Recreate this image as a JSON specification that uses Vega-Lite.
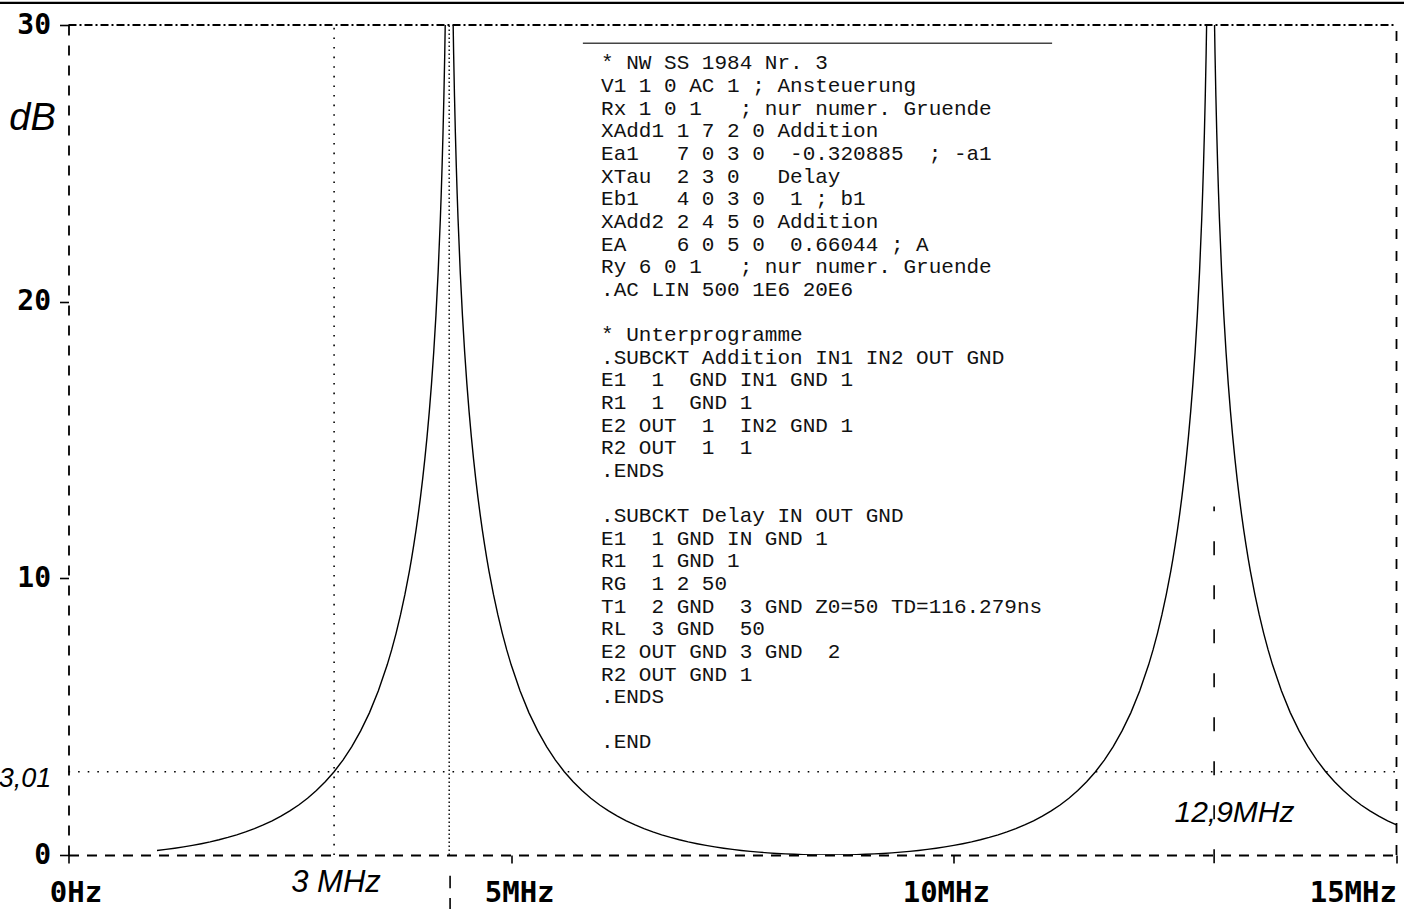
{
  "$schema": "https://vega.github.io/schema/vega-lite/v6.json",
  "width": 1328,
  "height": 830,
  "autosize": {"type": "none"},
  "padding": {"left": 68.5, "top": 25, "right": 7.5, "bottom": 54},
  "background": "white",
  "config": {"view": {"stroke": null}},
  "datasets": {
    "curve": [
      {"f": 1.0, "dB": 0.1645}, {"f": 1.1, "dB": 0.2025}, {"f": 1.2, "dB": 0.2451}, {"f": 1.3, "dB": 0.2933},
      {"f": 1.4, "dB": 0.3473}, {"f": 1.5, "dB": 0.4078}, {"f": 1.6, "dB": 0.4755}, {"f": 1.7, "dB": 0.5511},
      {"f": 1.8, "dB": 0.6357}, {"f": 1.9, "dB": 0.7301}, {"f": 2.0, "dB": 0.8357}, {"f": 2.1, "dB": 0.9541},
      {"f": 2.2, "dB": 1.0868}, {"f": 2.3, "dB": 1.2361}, {"f": 2.4, "dB": 1.404}, {"f": 2.5, "dB": 1.5937},
      {"f": 2.6, "dB": 1.8082}, {"f": 2.7, "dB": 2.0518}, {"f": 2.8, "dB": 2.3293}, {"f": 2.9, "dB": 2.6463},
      {"f": 3.0, "dB": 3.0103}, {"f": 3.1, "dB": 3.4319}, {"f": 3.2, "dB": 3.9161}, {"f": 3.3, "dB": 4.4863},
      {"f": 3.4, "dB": 5.1471}, {"f": 3.5, "dB": 5.9333}, {"f": 3.6, "dB": 6.8731}, {"f": 3.65, "dB": 7.4139},
      {"f": 3.7, "dB": 8.0118}, {"f": 3.75, "dB": 8.6766}, {"f": 3.8, "dB": 9.419}, {"f": 3.85, "dB": 10.2556},
      {"f": 3.875, "dB": 10.7154}, {"f": 3.9, "dB": 11.2072}, {"f": 3.925, "dB": 11.7348}, {"f": 3.95, "dB": 12.303},
      {"f": 3.975, "dB": 12.9175}, {"f": 4.0, "dB": 13.5855}, {"f": 4.025, "dB": 14.3164}, {"f": 4.05, "dB": 15.1211},
      {"f": 4.075, "dB": 16.0154}, {"f": 4.1, "dB": 17.0196}, {"f": 4.125, "dB": 18.1627}, {"f": 4.15, "dB": 19.4872},
      {"f": 4.175, "dB": 21.0585}, {"f": 4.2, "dB": 22.9864}, {"f": 4.21, "dB": 23.898}, {"f": 4.22, "dB": 24.9184},
      {"f": 4.23, "dB": 26.075}, {"f": 4.24, "dB": 27.412}, {"f": 4.25, "dB": 29.0}, {"f": 4.26, "dB": 30.93},
      {"f": 4.28, "dB": 36.95},
      {"f": 4.32, "dB": 36.95}, {"f": 4.34, "dB": 30.93}, {"f": 4.35, "dB": 29.0}, {"f": 4.36, "dB": 27.412},
      {"f": 4.37, "dB": 26.075}, {"f": 4.38, "dB": 24.9184}, {"f": 4.39, "dB": 23.898}, {"f": 4.4, "dB": 22.9864},
      {"f": 4.425, "dB": 21.0585}, {"f": 4.45, "dB": 19.4872}, {"f": 4.475, "dB": 18.1627}, {"f": 4.5, "dB": 17.0196},
      {"f": 4.525, "dB": 16.0154}, {"f": 4.55, "dB": 15.1211}, {"f": 4.575, "dB": 14.3164}, {"f": 4.6, "dB": 13.5855},
      {"f": 4.625, "dB": 12.9175}, {"f": 4.65, "dB": 12.303}, {"f": 4.675, "dB": 11.7348}, {"f": 4.7, "dB": 11.2072},
      {"f": 4.725, "dB": 10.7154}, {"f": 4.75, "dB": 10.2556}, {"f": 4.8, "dB": 9.419}, {"f": 4.85, "dB": 8.6766},
      {"f": 4.9, "dB": 8.0118}, {"f": 4.95, "dB": 7.4139}, {"f": 5.0, "dB": 6.8731}, {"f": 5.1, "dB": 5.9333},
      {"f": 5.2, "dB": 5.1471}, {"f": 5.3, "dB": 4.4863}, {"f": 5.4, "dB": 3.9161}, {"f": 5.5, "dB": 3.4319},
      {"f": 5.6, "dB": 3.0103}, {"f": 5.7, "dB": 2.6463}, {"f": 5.8, "dB": 2.3293}, {"f": 5.9, "dB": 2.0518},
      {"f": 6.0, "dB": 1.8082}, {"f": 6.1, "dB": 1.5937}, {"f": 6.2, "dB": 1.404}, {"f": 6.3, "dB": 1.2361},
      {"f": 6.4, "dB": 1.0868}, {"f": 6.5, "dB": 0.9541}, {"f": 6.6, "dB": 0.8357}, {"f": 6.7, "dB": 0.7301},
      {"f": 6.8, "dB": 0.6357}, {"f": 6.9, "dB": 0.5511}, {"f": 7.0, "dB": 0.4755}, {"f": 7.1, "dB": 0.4078},
      {"f": 7.2, "dB": 0.3473}, {"f": 7.3, "dB": 0.2933}, {"f": 7.4, "dB": 0.2451}, {"f": 7.5, "dB": 0.2025},
      {"f": 7.6, "dB": 0.1645}, {"f": 7.7, "dB": 0.1316}, {"f": 7.8, "dB": 0.1026}, {"f": 7.9, "dB": 0.0778},
      {"f": 8.0, "dB": 0.0566}, {"f": 8.1, "dB": 0.039}, {"f": 8.2, "dB": 0.0248}, {"f": 8.3, "dB": 0.0139},
      {"f": 8.4, "dB": 0.0062}, {"f": 8.5, "dB": 0.0015}, {"f": 8.6, "dB": 0},
      {"f": 8.7, "dB": 0.0015}, {"f": 8.8, "dB": 0.0062}, {"f": 8.9, "dB": 0.0139}, {"f": 9.0, "dB": 0.0248},
      {"f": 9.1, "dB": 0.039}, {"f": 9.2, "dB": 0.0566}, {"f": 9.3, "dB": 0.0778}, {"f": 9.4, "dB": 0.1026},
      {"f": 9.5, "dB": 0.1316}, {"f": 9.6, "dB": 0.1645}, {"f": 9.7, "dB": 0.2025}, {"f": 9.8, "dB": 0.2451},
      {"f": 9.9, "dB": 0.2933}, {"f": 10.0, "dB": 0.3473}, {"f": 10.1, "dB": 0.4078}, {"f": 10.2, "dB": 0.4755},
      {"f": 10.3, "dB": 0.5511}, {"f": 10.4, "dB": 0.6357}, {"f": 10.5, "dB": 0.7301}, {"f": 10.6, "dB": 0.8357},
      {"f": 10.7, "dB": 0.9541}, {"f": 10.8, "dB": 1.0868}, {"f": 10.9, "dB": 1.2361}, {"f": 11.0, "dB": 1.404},
      {"f": 11.1, "dB": 1.5937}, {"f": 11.2, "dB": 1.8082}, {"f": 11.3, "dB": 2.0518}, {"f": 11.4, "dB": 2.3293},
      {"f": 11.5, "dB": 2.6463}, {"f": 11.6, "dB": 3.0103}, {"f": 11.7, "dB": 3.4319}, {"f": 11.8, "dB": 3.9161},
      {"f": 11.9, "dB": 4.4863}, {"f": 12.0, "dB": 5.1471}, {"f": 12.1, "dB": 5.9333}, {"f": 12.2, "dB": 6.8731},
      {"f": 12.25, "dB": 7.4139}, {"f": 12.3, "dB": 8.0118}, {"f": 12.35, "dB": 8.6766}, {"f": 12.4, "dB": 9.419},
      {"f": 12.45, "dB": 10.2556}, {"f": 12.475, "dB": 10.7154}, {"f": 12.5, "dB": 11.2072}, {"f": 12.525, "dB": 11.7348},
      {"f": 12.55, "dB": 12.303}, {"f": 12.575, "dB": 12.9175}, {"f": 12.6, "dB": 13.5855}, {"f": 12.625, "dB": 14.3164},
      {"f": 12.65, "dB": 15.1211}, {"f": 12.675, "dB": 16.0154}, {"f": 12.7, "dB": 17.0196}, {"f": 12.725, "dB": 18.1627},
      {"f": 12.75, "dB": 19.4872}, {"f": 12.775, "dB": 21.0585}, {"f": 12.8, "dB": 22.9864}, {"f": 12.81, "dB": 23.898},
      {"f": 12.82, "dB": 24.9184}, {"f": 12.83, "dB": 26.075}, {"f": 12.84, "dB": 27.412}, {"f": 12.85, "dB": 29.0},
      {"f": 12.86, "dB": 30.93}, {"f": 12.88, "dB": 36.95},
      {"f": 12.92, "dB": 36.95}, {"f": 12.94, "dB": 30.93}, {"f": 12.95, "dB": 29.0}, {"f": 12.96, "dB": 27.412},
      {"f": 12.97, "dB": 26.075}, {"f": 12.98, "dB": 24.9184}, {"f": 12.99, "dB": 23.898}, {"f": 13.0, "dB": 22.9864},
      {"f": 13.025, "dB": 21.0585}, {"f": 13.05, "dB": 19.4872}, {"f": 13.075, "dB": 18.1627}, {"f": 13.1, "dB": 17.0196},
      {"f": 13.125, "dB": 16.0154}, {"f": 13.15, "dB": 15.1211}, {"f": 13.175, "dB": 14.3164}, {"f": 13.2, "dB": 13.5855},
      {"f": 13.225, "dB": 12.9175}, {"f": 13.25, "dB": 12.303}, {"f": 13.275, "dB": 11.7348}, {"f": 13.3, "dB": 11.2072},
      {"f": 13.325, "dB": 10.7154}, {"f": 13.35, "dB": 10.2556}, {"f": 13.4, "dB": 9.419}, {"f": 13.45, "dB": 8.6766},
      {"f": 13.5, "dB": 8.0118}, {"f": 13.55, "dB": 7.4139}, {"f": 13.6, "dB": 6.8731}, {"f": 13.7, "dB": 5.9333},
      {"f": 13.8, "dB": 5.1471}, {"f": 13.9, "dB": 4.4863}, {"f": 14.0, "dB": 3.9161}, {"f": 14.1, "dB": 3.4319},
      {"f": 14.2, "dB": 3.0103}, {"f": 14.3, "dB": 2.6463}, {"f": 14.4, "dB": 2.3293}, {"f": 14.5, "dB": 2.0518},
      {"f": 14.6, "dB": 1.8082}, {"f": 14.7, "dB": 1.5937}, {"f": 14.8, "dB": 1.404}, {"f": 14.9, "dB": 1.2361},
      {"f": 15.0, "dB": 1.0868}
    ],
    "netlist": [
      {"line": 1, "dB": 28.392, "text": "* NW SS 1984 Nr. 3"},
      {"line": 2, "dB": 27.574, "text": "V1 1 0 AC 1 ; Ansteuerung"},
      {"line": 3, "dB": 26.756, "text": "Rx 1 0 1\u00a0\u00a0\u00a0; nur numer. Gruende"},
      {"line": 4, "dB": 25.938, "text": "XAdd1 1 7 2 0 Addition"},
      {"line": 5, "dB": 25.12, "text": "Ea1\u00a0\u00a0\u00a07 0 3 0\u00a0\u00a0-0.320885\u00a0\u00a0; -a1"},
      {"line": 6, "dB": 24.302, "text": "XTau\u00a0\u00a02 3 0\u00a0\u00a0\u00a0Delay"},
      {"line": 7, "dB": 23.484, "text": "Eb1\u00a0\u00a0\u00a04 0 3 0\u00a0\u00a01 ; b1"},
      {"line": 8, "dB": 22.666, "text": "XAdd2 2 4 5 0 Addition"},
      {"line": 9, "dB": 21.848, "text": "EA\u00a0\u00a0\u00a0\u00a06 0 5 0\u00a0\u00a00.66044 ; A"},
      {"line": 10, "dB": 21.03, "text": "Ry 6 0 1\u00a0\u00a0\u00a0; nur numer. Gruende"},
      {"line": 11, "dB": 20.212, "text": ".AC LIN 500 1E6 20E6"},
      {"line": 13, "dB": 18.576, "text": "* Unterprogramme"},
      {"line": 14, "dB": 17.758, "text": ".SUBCKT Addition IN1 IN2 OUT GND"},
      {"line": 15, "dB": 16.94, "text": "E1\u00a0\u00a01\u00a0\u00a0GND IN1 GND 1"},
      {"line": 16, "dB": 16.122, "text": "R1\u00a0\u00a01\u00a0\u00a0GND 1"},
      {"line": 17, "dB": 15.304, "text": "E2 OUT\u00a0\u00a01\u00a0\u00a0IN2 GND 1"},
      {"line": 18, "dB": 14.486, "text": "R2 OUT\u00a0\u00a01\u00a0\u00a01"},
      {"line": 19, "dB": 13.668, "text": ".ENDS"},
      {"line": 21, "dB": 12.032, "text": ".SUBCKT Delay IN OUT GND"},
      {"line": 22, "dB": 11.214, "text": "E1\u00a0\u00a01 GND IN GND 1"},
      {"line": 23, "dB": 10.396, "text": "R1\u00a0\u00a01 GND 1"},
      {"line": 24, "dB": 9.578, "text": "RG\u00a0\u00a01 2 50"},
      {"line": 25, "dB": 8.76, "text": "T1\u00a0\u00a02 GND\u00a0\u00a03 GND Z0=50 TD=116.279ns"},
      {"line": 26, "dB": 7.942, "text": "RL\u00a0\u00a03 GND\u00a0\u00a050"},
      {"line": 27, "dB": 7.124, "text": "E2 OUT GND 3 GND\u00a0\u00a02"},
      {"line": 28, "dB": 6.306, "text": "R2 OUT GND 1"},
      {"line": 29, "dB": 5.488, "text": ".ENDS"},
      {"line": 31, "dB": 3.852, "text": ".END"}
    ]
  },
  "layer": [
    {
      "data": {"name": "curve"},
      "mark": {"type": "line", "color": "black", "strokeWidth": 1.4, "clip": true},
      "encoding": {
        "x": {
          "field": "f", "type": "quantitative",
          "scale": {"domain": [0, 15], "nice": false, "zero": false},
          "axis": {
            "values": [0, 5, 10, 15],
            "labelExpr": "datum.value == 0 ? '0Hz' : datum.value + 'MHz'",
            "title": null, "grid": false,
            "domainColor": "black", "domainWidth": 1.8, "domainDash": [10, 8],
            "tickColor": "black", "tickWidth": 1.6, "tickSize": 8,
            "labelFont": "DejaVu Sans Mono", "labelFontWeight": "bold", "labelFontSize": 29,
            "labelColor": "black", "labelPadding": 15, "labelBaseline": "top",
            "labelAlign": {"condition": {"test": "datum.value === 15", "value": "right"}, "value": "center"},
            "labelOffset": {"condition": [{"test": "datum.value === 0", "value": 7}, {"test": "datum.value === 5", "value": 8}, {"test": "datum.value === 10", "value": -8}], "value": 0},
            "labelOverlap": false, "labelFlush": false
          }
        },
        "y": {
          "field": "dB", "type": "quantitative",
          "scale": {"domain": [0, 30], "nice": false},
          "axis": {
            "values": [0, 10, 20, 30],
            "title": null, "grid": false,
            "domainColor": "black", "domainWidth": 1.8, "domainDash": [10, 10],
            "tickColor": "black", "tickWidth": 1.6, "tickSize": 9,
            "labelFont": "DejaVu Sans Mono", "labelFontWeight": "bold", "labelFontSize": 28,
            "labelColor": "black", "labelPadding": 9,
            "labelOverlap": false, "labelFlush": false
          }
        }
      }
    },
    {
      "data": {"values": [{"f": 0, "f2": 15, "dB": 30, "dB2": 30}]},
      "mark": {"type": "rule", "color": "black", "strokeWidth": 1.8, "strokeDash": [8, 3, 2, 3]},
      "encoding": {
        "x": {"field": "f", "type": "quantitative"},
        "x2": {"field": "f2"},
        "y": {"field": "dB", "type": "quantitative"},
        "y2": {"field": "dB2"}
      }
    },
    {
      "data": {"values": [{"f": 15, "f2": 15, "dB": 0, "dB2": 30}]},
      "mark": {"type": "rule", "color": "black", "strokeWidth": 1.8, "strokeDash": [10, 12]},
      "encoding": {
        "x": {"field": "f", "type": "quantitative"},
        "x2": {"field": "f2"},
        "y": {"field": "dB", "type": "quantitative"},
        "y2": {"field": "dB2"}
      }
    },
    {
      "data": {"values": [{"f": 0, "f2": 15, "dB": 3.01, "dB2": 3.01}, {"f": 3, "f2": 3, "dB": 0, "dB2": 30}]},
      "mark": {"type": "rule", "color": "black", "strokeWidth": 1.6, "strokeDash": [1.6, 8]},
      "encoding": {
        "x": {"field": "f", "type": "quantitative"},
        "x2": {"field": "f2"},
        "y": {"field": "dB", "type": "quantitative"},
        "y2": {"field": "dB2"}
      }
    },
    {
      "data": {"values": [{"f": 4.3, "f2": 4.3, "dB": 0, "dB2": 30}]},
      "mark": {"type": "rule", "color": "black", "strokeWidth": 1.4, "strokeDash": [1.5, 2.5]},
      "encoding": {
        "x": {"field": "f", "type": "quantitative"},
        "x2": {"field": "f2"},
        "y": {"field": "dB", "type": "quantitative"},
        "y2": {"field": "dB2"}
      }
    },
    {
      "data": {"values": [{"f": 12.94, "f2": 12.94, "dB": -0.3, "dB2": 12.6}, {"f": 4.31, "f2": 4.31, "dB": -0.75, "dB2": -1.2}, {"f": 4.31, "f2": 4.31, "dB": -1.55, "dB2": -1.95}]},
      "mark": {"type": "rule", "color": "black", "strokeWidth": 1.6, "strokeDash": [14, 30]},
      "encoding": {
        "x": {"field": "f", "type": "quantitative"},
        "x2": {"field": "f2"},
        "y": {"field": "dB", "type": "quantitative"},
        "y2": {"field": "dB2"}
      }
    },
    {
      "data": {"values": [{"f": -0.8, "f2": 15.2, "dB": 30.8, "dB2": 30.8}]},
      "mark": {"type": "rule", "color": "black", "strokeWidth": 2.2},
      "encoding": {
        "x": {"field": "f", "type": "quantitative"},
        "x2": {"field": "f2"},
        "y": {"field": "dB", "type": "quantitative"},
        "y2": {"field": "dB2"}
      }
    },
    {
      "data": {"values": [{"f": 5.81, "f2": 11.11, "dB": 29.34, "dB2": 29.34}]},
      "mark": {"type": "rule", "color": "#444444", "strokeWidth": 1.3},
      "encoding": {
        "x": {"field": "f", "type": "quantitative"},
        "x2": {"field": "f2"},
        "y": {"field": "dB", "type": "quantitative"},
        "y2": {"field": "dB2"}
      }
    },
    {
      "data": {"values": [{"f": -0.4066, "dB": 26.2, "label": "dB"}]},
      "mark": {"type": "text", "font": "Liberation Sans", "fontStyle": "italic", "fontSize": 38, "align": "center", "baseline": "alphabetic", "color": "black"},
      "encoding": {
        "x": {"field": "f", "type": "quantitative"},
        "y": {"field": "dB", "type": "quantitative"},
        "text": {"field": "label"}
      }
    },
    {
      "data": {"values": [{"f": -0.4913, "dB": 2.458, "label": "3,01"}]},
      "mark": {"type": "text", "font": "Liberation Sans", "fontStyle": "italic", "fontSize": 27, "align": "center", "baseline": "alphabetic", "color": "black"},
      "encoding": {
        "x": {"field": "f", "type": "quantitative"},
        "y": {"field": "dB", "type": "quantitative"},
        "text": {"field": "label"}
      }
    },
    {
      "data": {"values": [{"f": 3.0215, "dB": -1.337, "label": "3 MHz"}]},
      "mark": {"type": "text", "font": "Liberation Sans", "fontStyle": "italic", "fontSize": 31, "align": "center", "baseline": "alphabetic", "color": "black"},
      "encoding": {
        "x": {"field": "f", "type": "quantitative"},
        "y": {"field": "dB", "type": "quantitative"},
        "text": {"field": "label"}
      }
    },
    {
      "data": {"values": [{"f": 13.17, "dB": 1.193, "label": "12,9MHz"}]},
      "mark": {"type": "text", "font": "Liberation Sans", "fontStyle": "italic", "fontSize": 30, "align": "center", "baseline": "alphabetic", "color": "black"},
      "encoding": {
        "x": {"field": "f", "type": "quantitative"},
        "y": {"field": "dB", "type": "quantitative"},
        "text": {"field": "label"}
      }
    },
    {
      "data": {"name": "netlist"},
      "mark": {"type": "text", "font": "Liberation Mono", "fontSize": 21, "align": "left", "baseline": "alphabetic", "color": "#111111"},
      "encoding": {
        "x": {"datum": 6.015, "type": "quantitative"},
        "y": {"field": "dB", "type": "quantitative"},
        "text": {"field": "text"}
      }
    }
  ]
}
